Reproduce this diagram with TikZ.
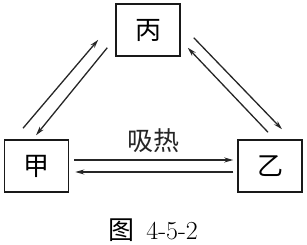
\documentclass[tikz,border=0pt]{standalone}
\usepackage{fontspec}
\newfontfamily\cjk{Noto Sans CJK SC}
\usetikzlibrary{arrows.meta, calc}
\tikzstyle{phase} = [rectangle, draw=black!90, line width=1.5pt, minimum width=64pt, minimum height=52pt, inner sep=0pt, font=\cjk\fontsize{26}{26}\selectfont]
\tikzstyle{arr} = [-{Stealth[length=9pt, width=5pt]}, line width=1.3pt, black!85]
\tikzstyle{lab} = [font=\cjk\fontsize{26}{26}\selectfont]

\begin{document}
\begin{tikzpicture}[x=1pt, y=1pt]
  \useasboundingbox (0,0) rectangle (307,245);
  % ---------- states ----------
  \node[phase] (bing) at (148, 215) {丙};
  \node[phase] (jia)  at (36.5, 79) {甲};
  \node[phase] (yi)   at (270, 79)  {乙};
  % ---------- jia <-> yi ----------
  \draw[arr] ([shift={(5,6)}]jia.east) -- ([shift={(-4,6)}]yi.west)
    node[midway, above=3pt, lab] {吸热};
  \draw[arr] ([shift={(-4,-6)}]yi.west) -- ([shift={(6,-6)}]jia.east);
  % ---------- jia <-> bing ----------
  \draw[arr] ([shift={(-13.5,11)}]jia.north) -- ([shift={(-17,17)}]bing.south west);
  \draw[arr] ([shift={(-8,9)}]bing.south west) -- ([shift={(-0.5,4)}]jia.north);
  % ---------- yi <-> bing ----------
  \draw[arr] ([shift={(-2,7)}]yi.north) -- ([shift={(7,9)}]bing.south east);
  \draw[arr] ([shift={(13,19)}]bing.south east) -- ([shift={(12,10)}]yi.north);
  % caption
  \node[font=\fontsize{26}{26}\selectfont] (cap) at (153, 15) {{\cjk 图}\ \,4-5-2};
\end{tikzpicture}
\end{document}
